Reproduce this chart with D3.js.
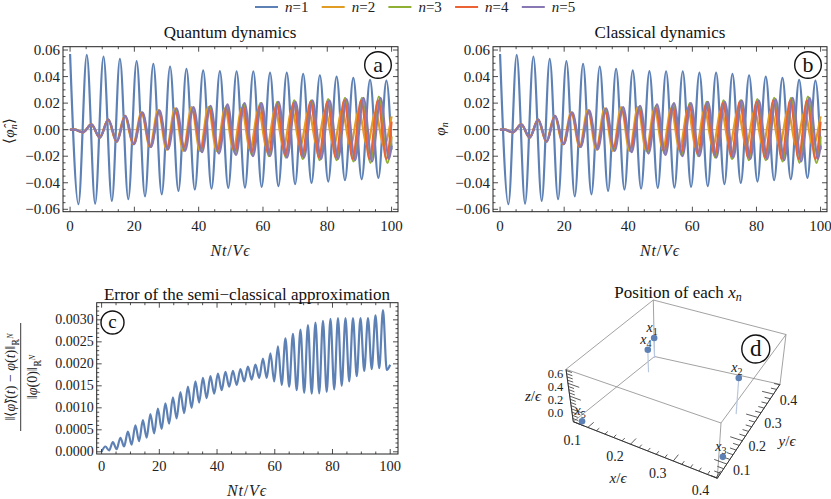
<!DOCTYPE html>
<html><head><meta charset="utf-8">
<script src="https://cdn.jsdelivr.net/npm/d3@7"></script>
<style>
body{margin:0;background:#fff;}
</style></head><body>
<svg id="chart" width="831" height="499"></svg>
<script>
// ================= DATA =================
const legendIndex = ["1","2","3","4","5"];
const xTickValues = [0,20,40,60,80,100];
const yTickValuesAB = [-0.06,-0.04,-0.02,0,0.02,0.04,0.06];
const yTickValuesC = [0,0.0005,0.001,0.0015,0.002,0.0025,0.003];

// n=1 extrema (time, value)
const n1T = [0,2.6,5.2,7.8,10.4,13.0,15.5,18.1,20.7,23.3,25.9,28.5,31.1,33.7,36.2,38.8,41.4,44.0,46.6,49.2,51.8,54.4,57.0,59.6,62.2,64.8,67.4,70.0,72.5,75.1,77.7,80.3,82.9,85.5,88.1,90.7,93.3,95.9,98.4,100];
const n1V = [0.0570,-0.0562,0.0564,-0.0557,0.0551,-0.0537,0.0534,-0.0524,0.0516,-0.0502,0.0496,-0.0487,0.0476,-0.0462,0.0459,-0.0451,0.0446,-0.0444,0.0441,-0.0439,0.0440,-0.0436,0.0440,-0.0431,0.0430,-0.0426,0.0430,-0.0411,0.0420,-0.0401,0.0410,-0.0391,0.0400,-0.0381,0.0390,-0.0374,0.0375,-0.0364,0.0370,-0.0150];
// n=2 extrema
const n2T = [0,1.4,4.0,6.6,9.2,11.8,14.4,17.0,19.6,22.2,24.8,27.4,30.0,32.6,35.2,37.8,40.4,43.0,45.6,48.2,50.8,53.4,56.0,58.6,61.2,63.8,66.4,69.0,71.6,74.2,76.8,79.4,82.0,84.6,87.2,89.8,92.4,95.0,97.6,100];
const n2V = [0,0,-0.002,0.004,-0.006,0.0075,-0.009,0.0105,-0.011,0.013,-0.013,0.015,-0.015,0.016,-0.016,0.017,-0.016,0.017,-0.016,0.016,-0.015,0.016,-0.015,0.015,-0.014,0.015,-0.013,0.015,-0.012,0.014,-0.012,0.014,-0.012,0.0145,-0.012,0.014,-0.012,0.013,-0.012,0.010];
// n=3 extrema
const n3T = [0,1.4,4.0,6.63,9.26,11.89,14.52,17.15,19.78,22.41,25.04,27.67,30.3,32.93,35.56,38.19,40.82,43.45,46.08,48.71,51.34,53.97,56.6,59.23,61.86,64.49,67.12,69.75,72.38,75.01,77.64,80.27,82.9,85.53,88.16,90.79,93.42,96.05,98.68,100];
const n3V = [0,0,-0.002,0.004,-0.006,0.0075,-0.009,0.0105,-0.011,0.0125,-0.013,0.014,-0.014,0.015,-0.015,0.016,-0.016,0.017,-0.017,0.018,-0.018,0.019,-0.019,0.020,-0.020,0.021,-0.021,0.022,-0.022,0.022,-0.023,0.023,-0.023,0.024,-0.024,0.024,-0.025,0.025,-0.025,-0.005];
// n=4 extrema
const n4T = [0,1.4,4.0,6.62,9.24,11.87,14.49,17.11,19.73,22.36,24.98,27.6,30.22,32.84,35.46,38.09,40.71,43.33,45.95,48.58,51.2,53.82,56.44,59.06,61.68,64.31,66.93,69.55,72.17,74.8,77.42,80.04,82.66,85.28,87.9,90.53,93.15,95.77,98.39,100];
const n4V = [0,0,-0.002,0.004,-0.006,0.0075,-0.009,0.0105,-0.011,0.0125,-0.013,0.013,-0.013,0.013,-0.013,0.014,-0.014,0.015,-0.015,0.016,-0.016,0.017,-0.017,0.018,-0.018,0.019,-0.019,0.020,-0.020,0.021,-0.021,0.021,-0.021,0.022,-0.022,0.022,-0.022,0.022,-0.022,0.006];
// n=5 extrema
const n5T = [0,1.4,4.0,6.65,9.29,11.94,14.58,17.23,19.87,22.52,25.16,27.81,30.45,33.1,35.74,38.39,41.03,43.68,46.32,48.97,51.61,54.26,56.9,59.55,62.19,64.84,67.48,70.13,72.77,75.42,78.06,80.71,83.35,86.0,88.64,91.29,93.93,96.58,99.22,100];
const n5V = [0,0,-0.002,0.004,-0.006,0.0075,-0.009,0.0105,-0.011,0.013,-0.013,0.0145,-0.015,0.016,-0.016,0.017,-0.017,0.018,-0.018,0.019,-0.019,0.020,-0.020,0.020,-0.020,0.021,-0.021,0.021,-0.021,0.022,-0.022,0.022,-0.022,0.023,-0.023,0.024,-0.024,0.024,-0.022,-0.012];
// classical dynamics: visually identical to the quantum curves
const c1V = n1V.slice(), c2V = n2V.slice(), c3V = n3V.slice(), c4V = n4V.slice(), c5V = n5V.slice();

// error of the semi-classical approximation (extrema)
const errT = [0,1.3,2.6,3.9,5.2,6.5,7.8,9.1,10.4,11.7,13.0,14.3,15.6,16.9,18.2,19.5,20.8,22.1,23.4,24.7,26.0,27.3,28.6,29.9,31.2,32.5,33.8,35.1,36.4,37.7,39.0,40.3,41.6,42.9,44.2,45.5,46.8,48.1,49.4,50.7,52.0,53.3,54.6,55.9,57.2,58.5,59.8,61.1,62.4,63.7,65.0,66.3,67.6,68.9,70.2,71.5,72.8,74.1,75.4,76.7,78.0,79.3,80.6,81.9,83.2,84.5,85.8,87.1,88.4,89.7,91.0,92.3,93.6,94.9,96.2,97.5,98.8,100];
const errV = [0,0.00012,0.00003,0.00022,0.00006,0.00032,0.00012,0.00046,0.00016,0.00060,0.00024,0.00072,0.00032,0.00086,0.00042,0.00098,0.00052,0.00110,0.00064,0.00124,0.00076,0.00136,0.00088,0.00148,0.00100,0.00160,0.00112,0.00168,0.00122,0.00172,0.00132,0.00178,0.00140,0.00182,0.00148,0.00184,0.00152,0.00188,0.00160,0.00194,0.00164,0.00198,0.00168,0.00212,0.00168,0.00224,0.00160,0.00240,0.00152,0.00258,0.00148,0.00268,0.00140,0.00278,0.00134,0.00288,0.00132,0.00294,0.00133,0.00298,0.00136,0.00302,0.00142,0.00304,0.00150,0.00304,0.00160,0.00304,0.00172,0.00304,0.00184,0.00304,0.00188,0.00310,0.00190,0.00322,0.00186,0.00198];

// positions of each x_n (in units of epsilon)
const posLabels = ["1","2","3","4","5"];
const posX = [0.070,0.352,0.386,0.093,0.079];
const posY = [0.435,0.289,0.120,0.361,0.055];
const posZ = [0.29,0.566,0.0,0.335,0.0];
const boxTicksX = [0.1,0.2,0.3,0.4];
const boxTicksY = [0.1,0.2,0.3,0.4];
const boxTicksZ = [0.0,0.2,0.4,0.6];

// ================= STYLE =================
const FONT = "Liberation Serif";
const colors = ["#5E81B5","#E19C24","#8FB032","#EB6235","#8778B3"];
const svg = d3.select("#chart");

// ================= LEGEND =================
const leg = svg.append("g");
legendIndex.forEach((k,i)=>{
  const x0 = 255 + i*66.7;
  leg.append("line").attr("x1",x0).attr("x2",x0+23).attr("y1",7).attr("y2",7)
     .attr("stroke",colors[i]).attr("stroke-width",2);
  const t = leg.append("text").attr("x",x0+30).attr("y",12).attr("font-size",15).attr("fill","#222");
  t.append("tspan").attr("font-style","italic").text("n");
  t.append("tspan").text("=" + k);
});

// ================= helpers =================
function fmtAB(v){ const s = Math.abs(v).toFixed(2); return v < -1e-9 ? "\u2212" + s : s; }
function fmtC(v){ return v.toFixed(4); }

function drawFrame(g, xs, ys, xMajor, xMinorStep, yMajor, yMinorStep, yFmt, fsX, fsY, xOff){
  const [x0,x1] = xs.range(), [y0,y1] = ys.range();
  g.append("rect").attr("x",x0).attr("y",y1).attr("width",x1-x0).attr("height",y0-y1)
    .attr("fill","none").attr("stroke","#222").attr("stroke-width",1);
  const xd = xs.domain(), yd = ys.domain();
  const xMinor = d3.range(Math.ceil(xd[0]/xMinorStep)*xMinorStep, xd[1], xMinorStep);
  const yMinor = d3.range(Math.ceil(yd[0]/yMinorStep - 1e-6)*yMinorStep, yd[1], yMinorStep);
  const tk = g.append("g").attr("stroke","#222").attr("stroke-width",0.8);
  xMinor.forEach(v=>{
    const maj = xMajor.some(m=>Math.abs(m-v)<1e-9); const L = maj?5:2.5; const X = xs(v);
    tk.append("line").attr("x1",X).attr("x2",X).attr("y1",y0).attr("y2",y0-L);
    tk.append("line").attr("x1",X).attr("x2",X).attr("y1",y1).attr("y2",y1+L);
  });
  yMinor.forEach(v=>{
    const maj = yMajor.some(m=>Math.abs(m-v)<yMinorStep*1e-3); const L = maj?5:2.5; const Y = ys(v);
    tk.append("line").attr("y1",Y).attr("y2",Y).attr("x1",x0).attr("x2",x0+L);
    tk.append("line").attr("y1",Y).attr("y2",Y).attr("x1",x1).attr("x2",x1-L);
  });
  xMajor.forEach(v=>{
    g.append("text").attr("x",xs(v)).attr("y",y0+xOff).attr("text-anchor","middle")
      .attr("font-size",fsX).attr("fill","#222").text(v);
  });
  yMajor.forEach(v=>{
    g.append("text").attr("x",x0-3).attr("y",ys(v)).attr("dy","0.33em").attr("text-anchor","end")
      .attr("font-size",fsY).attr("fill","#222").text(yFmt(v));
  });
}
function xTitle(g, cx, y){
  const t = g.append("text").attr("x",cx).attr("y",y).attr("text-anchor","middle").attr("font-size",16)
    .attr("letter-spacing",0.8).attr("fill","#222");
  t.append("tspan").attr("font-style","italic").text("Nt");
  t.append("tspan").text("/");
  t.append("tspan").attr("font-style","italic").text("V\u03F5");
}
function circleLabel(g, cx, cy, r, letter){
  g.append("circle").attr("cx",cx).attr("cy",cy).attr("r",r).attr("fill","#fff").attr("stroke","#111").attr("stroke-width",1.4);
  g.append("text").attr("x",cx).attr("y",cy).attr("dy","0.3em").attr("text-anchor","middle")
    .attr("font-size",r*1.65).attr("fill","#111").text(letter);
}

// ================= PANELS a & b =================
function dynPanel(xr, title, titleX, yLabelFn, labelLetter, circX, seriesV, seriesT){
  const g = svg.append("g");
  const xs = d3.scaleLinear().domain([-2.2,102]).range(xr);
  const ys = d3.scaleLinear().domain([-0.0618,0.0625]).range([211.7,46.7]);
  g.append("defs").append("clipPath").attr("id","clip"+labelLetter)
    .append("rect").attr("x",xr[0]).attr("y",46.7).attr("width",xr[1]-xr[0]).attr("height",165);
  g.append("line").attr("x1",xr[0]).attr("x2",xr[1]).attr("y1",ys(0)).attr("y2",ys(0)).attr("stroke","#999").attr("stroke-width",0.8);
  const line = d3.line().x(d=>xs(d[0])).y(d=>ys(d[1])).curve(d3.curveMonotoneX);
  const cg = g.append("g").attr("clip-path","url(#clip"+labelLetter+")");
  seriesV.forEach((vals,i)=>{
    const T = seriesT[i];
    cg.append("path").datum(T.map((t,j)=>[t,vals[j]])).attr("d",line)
      .attr("fill","none").attr("stroke",colors[i]).attr("stroke-width",2.2).attr("stroke-linejoin","round");
  });
  drawFrame(g, xs, ys, xTickValues, 5, yTickValuesAB, 0.005, fmtAB, 15, 15, 19);
  g.append("text").attr("x",titleX).attr("y",38).attr("text-anchor","middle").attr("font-size",17).attr("fill","#111").text(title);
  xTitle(g, (xr[0]+xr[1])/2, 256);
  yLabelFn(g);
  circleLabel(g, circX, 65, 13.3, labelLetter);
}
dynPanel([63,398], "Quantum dynamics", 230, g=>{
  const t = g.append("text").attr("transform","translate(14,131) rotate(-90)").attr("text-anchor","middle").attr("font-size",15).attr("fill","#222");
  t.append("tspan").text("\u27E8");
  t.append("tspan").attr("font-style","italic").text("\u03C6\u0302");
  t.append("tspan").attr("font-style","italic").attr("font-size",10).attr("dy",3).text("n");
  t.append("tspan").attr("dy",-3).text("\u27E9");
}, "a", 378, [n1V,n2V,n3V,n4V,n5V], [n1T,n2T,n3T,n4T,n5T]);
dynPanel([493,827], "Classical dynamics", 660, g=>{
  const t = g.append("text").attr("transform","translate(445,129) rotate(-90)").attr("text-anchor","middle").attr("font-size",15).attr("fill","#222");
  t.append("tspan").attr("font-style","italic").text("\u03C6");
  t.append("tspan").attr("font-style","italic").attr("font-size",10).attr("dy",3).text("n");
}, "b", 808, [c1V,c2V,c3V,c4V,c5V], [n1T,n2T,n3T,n4T,n5T]);

// ================= PANEL c =================
(function(){
  const g = svg.append("g");
  const xs = d3.scaleLinear().domain([-1.7,102.7]).range([96.7,398]);
  const ys = d3.scaleLinear().domain([-0.00005,0.00339]).range([454,302.7]);
  const line = d3.line().x(d=>xs(d[0])).y(d=>ys(d[1])).curve(d3.curveMonotoneX);
  g.append("path").datum(errT.map((t,j)=>[t,errV[j]])).attr("d",line)
    .attr("fill","none").attr("stroke",colors[0]).attr("stroke-width",2.2);
  drawFrame(g, xs, ys, xTickValues, 5, yTickValuesC, 0.0001, fmtC, 14.5, 14, 17);
  g.append("text").attr("x",247).attr("y",300).attr("text-anchor","middle").attr("font-size",17).attr("fill","#111")
    .text("Error of the semi\u2212classical approximation");
  xTitle(g, 247, 496);
  circleLabel(g, 112.5, 322.5, 11.5, "c");
  const f = g.append("g").attr("transform","translate(20.7,377) rotate(-90)").attr("fill","#222");
  f.append("line").attr("x1",-54).attr("x2",54).attr("y1",0).attr("y2",0).attr("stroke","#222").attr("stroke-width",0.9);
  const num = f.append("text").attr("x",0).attr("y",-6).attr("text-anchor","middle").attr("font-size",14);
  num.append("tspan").text("\u2016\u27E8");
  num.append("tspan").attr("font-style","italic").text("\u03C6\u0302");
  num.append("tspan").text("\u27E9(");
  num.append("tspan").attr("font-style","italic").text("t");
  num.append("tspan").text(") \u2212 ");
  num.append("tspan").attr("font-style","italic").text("\u03C6");
  num.append("tspan").text("(");
  num.append("tspan").attr("font-style","italic").text("t");
  num.append("tspan").text(")\u2016");
  num.append("tspan").attr("font-size",10).attr("dy",4).text("\u211D");
  num.append("tspan").attr("font-size",8).attr("font-style","italic").attr("dy",-6).text("N");
  const den = f.append("text").attr("x",0).attr("y",16).attr("text-anchor","middle").attr("font-size",14);
  den.append("tspan").text("\u2016");
  den.append("tspan").attr("font-style","italic").text("\u03C6");
  den.append("tspan").text("(0)\u2016");
  den.append("tspan").attr("font-size",10).attr("dy",4).text("\u211D");
  den.append("tspan").attr("font-size",8).attr("font-style","italic").attr("dy",-6).text("N");
})();

// ================= PANEL d (3D box) =================
(function(){
  const g = svg.append("g");
  const corner = {
    "000":[573.3,421.7], "100":[717.3,478.3], "110":[780,384.3], "010":[654.5,356.5],
    "001":[566,369.3],   "101":[721,423],     "111":[786,334.5], "011":[653.3,300]
  };
  const us = d3.scaleLinear().domain([0.066,0.403]).range([0,1]);
  const vs = d3.scaleLinear().domain([0.039,0.442]).range([0,1]);
  const ws = d3.scaleLinear().domain([0,0.819]).range([0,1]);
  function proj(x,y,z){
    const u=us(x), v=vs(y), w=ws(z);
    let px=0, py=0;
    for (const a of [0,1]) for (const b of [0,1]) for (const c of [0,1]) {
      const wt = (a?u:1-u)*(b?v:1-v)*(c?w:1-w);
      const p = corner[""+a+b+c];
      px += wt*p[0]; py += wt*p[1];
    }
    return [px,py];
  }
  const edges = [["000","100"],["100","110"],["110","010"],["010","000"],
                 ["001","101"],["101","111"],["111","011"],["011","001"],
                 ["000","001"],["100","101"],["110","111"],["010","011"]];
  edges.forEach(([a,b])=>{
    g.append("line").attr("x1",corner[a][0]).attr("y1",corner[a][1]).attr("x2",corner[b][0]).attr("y2",corner[b][1])
      .attr("stroke","#8a8a8a").attr("stroke-width",0.8);
  });
  const xd=us.domain(), yd=vs.domain(), zd=ws.domain();
  const ax = g.append("g").attr("stroke","#333").attr("stroke-width",1);
  const axLine = (p,q)=>ax.append("line").attr("x1",p[0]).attr("y1",p[1]).attr("x2",q[0]).attr("y2",q[1]);
  axLine(proj(xd[0],yd[0],zd[0]), proj(xd[1],yd[0],zd[0]));
  axLine(proj(xd[1],yd[0],zd[0]), proj(xd[1],yd[1],zd[0]));
  axLine(proj(xd[0],yd[0],zd[0]), proj(xd[0],yd[0],zd[1]));
  const tickSet = (ticks, step, fn) => {
    const arr = d3.range(0.0, 0.9, step).filter(v=>v>=fn.lo-1e-9 && v<=fn.hi+1e-9);
    arr.forEach(v=>{
      const maj = ticks.some(m=>Math.abs(m-v)<1e-6);
      const [p,q] = fn(v, maj?1:0.5);
      ax.append("line").attr("x1",p[0]).attr("y1",p[1]).attr("x2",q[0]).attr("y2",q[1]).attr("stroke-width",0.8);
    });
  };
  const fx = (v,s)=>[proj(v,yd[0],zd[0]), proj(v,yd[0]+0.03*s,zd[0])]; fx.lo=xd[0]; fx.hi=xd[1];
  const fy = (v,s)=>[proj(xd[1],v,zd[0]), proj(xd[1]-0.03*s,v,zd[0])]; fy.lo=yd[0]; fy.hi=yd[1];
  const fz = (v,s)=>[proj(xd[0],yd[0],v), proj(xd[0]+0.025*s,yd[0],v)]; fz.lo=zd[0]; fz.hi=zd[1];
  tickSet(boxTicksX, 0.02, fx);
  tickSet(boxTicksY, 0.02, fy);
  tickSet(boxTicksZ, 0.05, fz);
  boxTicksX.forEach(v=>{ const p=proj(v,yd[0],zd[0]);
    g.append("text").attr("x",p[0]-15.6).attr("y",p[1]+12.5).attr("dy","0.33em").attr("text-anchor","middle").attr("font-size",14).attr("fill","#222").text(v.toFixed(1)); });
  boxTicksY.forEach(v=>{ const p=proj(xd[1],v,zd[0]);
    g.append("text").attr("x",p[0]+15).attr("y",p[1]+6).attr("dy","0.33em").attr("text-anchor","middle").attr("font-size",14).attr("fill","#222").text(v.toFixed(1)); });
  const zLabelX = proj(xd[0],yd[0],zd[0])[0] - 10;
  boxTicksZ.forEach(v=>{ const p=proj(xd[0],yd[0],v);
    g.append("text").attr("x",zLabelX).attr("y",p[1]-9).attr("dy","0.33em").attr("text-anchor","end").attr("font-size",12.5).attr("fill","#222").text(v.toFixed(1)); });
  const xt = g.append("text").attr("x",618).attr("y",483).attr("text-anchor","middle").attr("font-size",15).attr("fill","#222");
  xt.append("tspan").attr("font-style","italic").text("x"); xt.append("tspan").text("/"); xt.append("tspan").attr("font-style","italic").text("\u03F5");
  const yt = g.append("text").attr("x",787).attr("y",446).attr("text-anchor","middle").attr("font-size",15).attr("fill","#222");
  yt.append("tspan").attr("font-style","italic").text("y"); yt.append("tspan").text("/"); yt.append("tspan").attr("font-style","italic").text("\u03F5");
  const zt = g.append("text").attr("x",533).attr("y",401).attr("text-anchor","middle").attr("font-size",15).attr("fill","#222");
  zt.append("tspan").attr("font-style","italic").text("z"); zt.append("tspan").text("/"); zt.append("tspan").attr("font-style","italic").text("\u03F5");
  posLabels.forEach((k,i)=>{
    const p = proj(posX[i],posY[i],posZ[i]), b = proj(posX[i],posY[i],zd[0]);
    g.append("line").attr("x1",p[0]).attr("y1",p[1]).attr("x2",b[0]).attr("y2",b[1]).attr("stroke","#b9c8e0").attr("stroke-width",1.2);
  });
  posLabels.forEach((k,i)=>{
    const p = proj(posX[i],posY[i],posZ[i]);
    g.append("circle").attr("cx",p[0]).attr("cy",p[1]).attr("r",3.3).attr("fill",colors[0]);
    const t = g.append("text").attr("x",p[0]-2).attr("y",p[1]-6).attr("text-anchor","middle").attr("font-size",14).attr("fill","#222");
    t.append("tspan").attr("font-style","italic").text("x");
    t.append("tspan").attr("font-size",10).attr("dy",3).text(k);
  });
  const tt = g.append("text").attr("x",678).attr("y",298).attr("text-anchor","middle").attr("font-size",17).attr("fill","#111");
  tt.append("tspan").text("Position of each ");
  tt.append("tspan").attr("font-style","italic").text("x");
  tt.append("tspan").attr("font-style","italic").attr("font-size",12).attr("dy",3).text("n");
  circleLabel(g, 755.8, 349, 14, "d");
})();
svg.selectAll("text").attr("font-family", FONT);
</script>
</body></html>
